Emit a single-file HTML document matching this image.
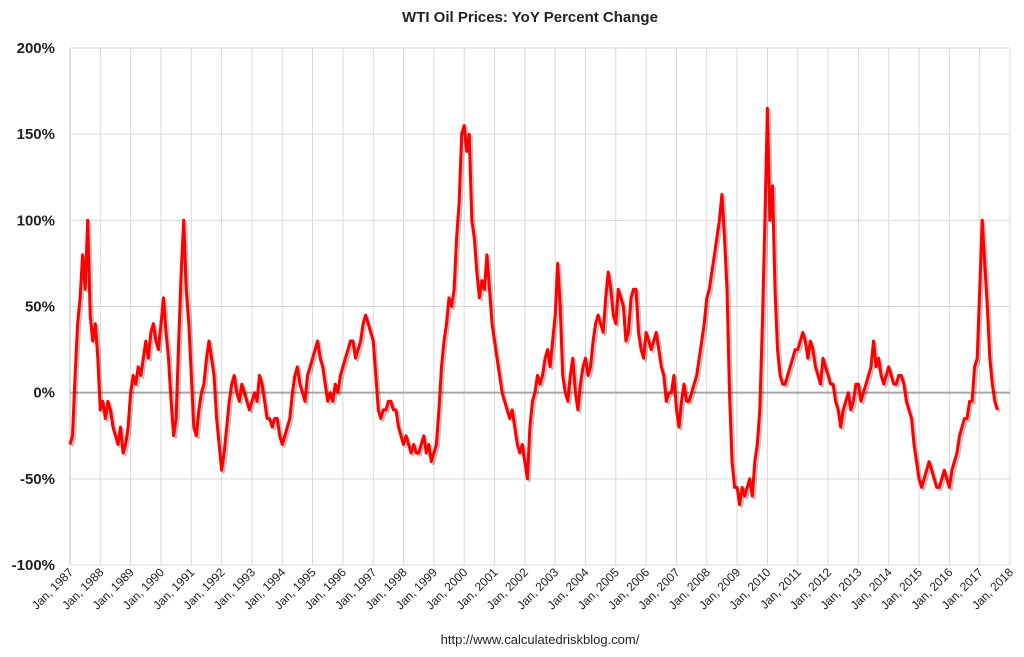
<!DOCTYPE html>
<html><head><meta charset="utf-8"><style>
body{margin:0;background:#fff;}
svg{display:block;font-family:"Liberation Sans",sans-serif;}
</style></head><body>
<svg id="chart" width="1024" height="657"></svg>
<script>
const startYear = 1987;
const yearLabels = ["Jan, 1987","Jan, 1988","Jan, 1989","Jan, 1990","Jan, 1991","Jan, 1992","Jan, 1993","Jan, 1994","Jan, 1995","Jan, 1996","Jan, 1997","Jan, 1998","Jan, 1999","Jan, 2000","Jan, 2001","Jan, 2002","Jan, 2003","Jan, 2004","Jan, 2005","Jan, 2006","Jan, 2007","Jan, 2008","Jan, 2009","Jan, 2010","Jan, 2011","Jan, 2012","Jan, 2013","Jan, 2014","Jan, 2015","Jan, 2016","Jan, 2017","Jan, 2018"];
const yTicks = [200,150,100,50,0,-50,-100];
const yTickLabels = ["200%","150%","100%","50%","0%","-50%","-100%"];
const monthlyChange = [
-30,-25,10,40,55,80,60,100,45,30,40,20,
-10,-5,-15,-5,-10,-20,-25,-30,-20,-35,-30,-20,
0,10,5,15,10,20,30,20,35,40,30,25,
40,55,35,20,-5,-25,-15,30,70,100,60,40,
10,-20,-25,-10,0,5,20,30,20,10,-15,-30,
-45,-35,-20,-5,5,10,0,-5,5,0,-5,-10,
-5,0,-5,10,5,-5,-15,-15,-20,-15,-15,-25,
-30,-25,-20,-15,0,10,15,5,0,-5,10,15,
20,25,30,20,15,5,-5,0,-5,5,0,10,
15,20,25,30,30,20,25,30,40,45,40,35,
30,10,-10,-15,-10,-10,-5,-5,-10,-10,-20,-25,
-30,-25,-30,-35,-30,-35,-35,-30,-25,-35,-30,-40,
-35,-30,-10,15,30,40,55,50,60,90,110,150,
155,140,150,100,90,70,55,65,60,80,60,40,
30,20,10,0,-5,-10,-15,-10,-20,-30,-35,-30,
-40,-50,-20,-5,0,10,5,10,20,25,15,30,
45,75,50,10,0,-5,10,20,0,-10,5,15,
20,10,15,30,40,45,40,35,55,70,60,45,
40,60,55,50,30,35,55,60,60,35,25,20,
35,30,25,30,35,25,15,10,-5,0,0,10,
-10,-20,-5,5,-5,-5,0,5,10,20,30,40,
55,60,70,80,90,100,115,90,60,0,-40,-55,
-55,-65,-55,-60,-55,-50,-60,-40,-30,-10,40,100,
165,100,120,60,25,10,5,5,10,15,20,25,
25,30,35,30,20,30,25,15,10,5,20,15,
10,5,5,-5,-10,-20,-10,-5,0,-10,-5,5,
5,-5,0,5,10,15,30,15,20,10,5,10,
15,10,5,5,10,10,5,-5,-10,-15,-30,-40,
-50,-55,-50,-45,-40,-45,-50,-55,-55,-50,-45,-50,
-55,-45,-40,-35,-25,-20,-15,-15,-5,-5,15,20,
60,100,75,50,20,5,-5,-10
];
const L=70,R=1010,T=48,B=565;
const xOf = t => L + (t)/(yearLabels.length-1)*(R-L);
const yOf = v => T + (200-v)/300*(B-T);
const NS="http://www.w3.org/2000/svg";
const svg=document.getElementById('chart');
function mk(tag,attrs,txt){const e=document.createElementNS(NS,tag);for(const k in attrs)e.setAttribute(k,attrs[k]);if(txt!==undefined)e.textContent=txt;svg.appendChild(e);return e;}
// vertical grid
yearLabels.forEach((lab,i)=>{
  const x=xOf(i);
  const g=mk('line',{x1:x,x2:x,y1:T,y2:B,stroke:'#d9d9d9','stroke-width':1});
  
  
  const t=mk('text',{x:x+4,y:B+8,'font-size':12,'text-anchor':'end',fill:'#222',transform:`rotate(-45 ${x+4} ${B+8})`},lab);
  
  
});
yTicks.forEach((v,i)=>{
  const y=yOf(v);
  const g=mk('line',{x1:L,x2:R,y1:y,y2:y,stroke:v===0?'#a6a6a6':'#d9d9d9','stroke-width':v===0?2:1});
  
  
  const t=mk('text',{x:55,y:y+5,'font-size':15,'font-weight':'bold','text-anchor':'end',fill:'#222'},yTickLabels[i]);
  
  
});
const ax=mk('line',{x1:L,x2:L,y1:T,y2:B,stroke:'#bfbfbf','stroke-width':1});


let d='';
monthlyChange.forEach((v,i)=>{d+=(i?'L':'M')+xOf(i/12).toFixed(1)+','+yOf(v).toFixed(1);});
const sh=mk('path',{d:d,fill:'none',stroke:'rgba(0,0,0,0.25)','stroke-width':3,transform:'translate(2,2)','stroke-linejoin':'round'});


const ln=mk('path',{d:d,fill:'none',stroke:'#ff0000','stroke-width':3,'stroke-linejoin':'round'});


const ti=mk('text',{x:530,y:22,'font-size':15,'font-weight':'bold','text-anchor':'middle',fill:'#222'},'WTI Oil Prices: YoY Percent Change');


const src=mk('text',{x:540,y:644,'font-size':13,'text-anchor':'middle',fill:'#222'},'http://www.calculatedriskblog.com/');


</script>
</body></html>
